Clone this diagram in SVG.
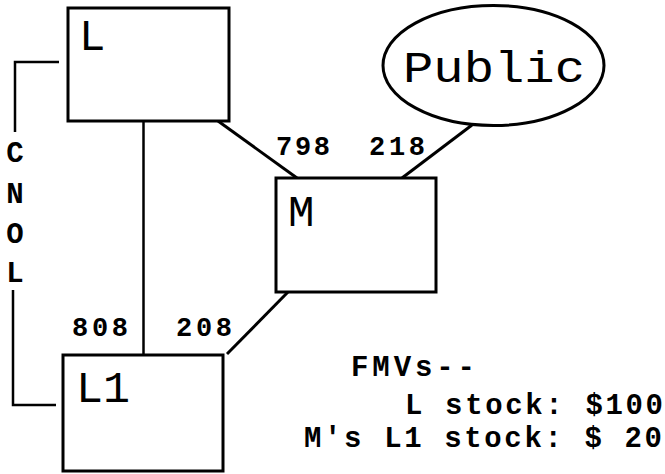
<svg xmlns="http://www.w3.org/2000/svg" width="665" height="474" viewBox="0 0 665 474">
<style>
.box{fill:#fff;stroke:#000;stroke-width:3}
.ln{fill:none;stroke:#000;stroke-width:3}
.thin{fill:none;stroke:#000;stroke-width:2.5}
.lbl{font-family:"Liberation Mono","Courier New",monospace;font-size:44px;fill:#000}
.pct{font-family:"Liberation Mono","Courier New",monospace;font-size:27px;font-weight:bold;fill:#000}
.note{font-family:"Liberation Mono","Courier New",monospace;font-size:29px;font-weight:bold;fill:#000}
</style>
<rect width="665" height="474" fill="#fff"/>
<g id="connectors">
<line class="thin" x1="143.5" y1="121" x2="143.5" y2="355"/>
<line class="ln" x1="218" y1="121" x2="297" y2="178"/>
<line class="ln" x1="472" y1="125" x2="402" y2="178"/>
<line class="ln" x1="288" y1="292" x2="227" y2="354"/>
<polyline class="thin" points="59,62 15,62 15,132"/>
<polyline class="thin" points="13,290 13,405 56,405"/>
</g>
<g id="node-L">
<rect class="box" x="68" y="8" width="161" height="113"/>
<text class="lbl" x="79" y="50">L</text>
</g>
<g id="node-Public">
<ellipse class="box" cx="493.5" cy="65.5" rx="110.5" ry="60"/>
<text class="lbl" x="403" y="82" textLength="182" lengthAdjust="spacingAndGlyphs">Public</text>
</g>
<g id="node-M">
<rect class="box" x="276" y="178" width="160" height="114"/>
<text class="lbl" x="288" y="226">M</text>
</g>
<g id="node-L1">
<rect class="box" x="63" y="355" width="160" height="116"/>
<text class="lbl" x="76" y="402" textLength="54" lengthAdjust="spacingAndGlyphs">L1</text>
</g>
<g id="labels">
<text class="pct" x="276" y="155" textLength="54">798</text>
<text class="pct" x="369" y="155" textLength="56">218</text>
<text class="pct" x="72" y="336" textLength="56">808</text>
<text class="pct" x="176" y="336" textLength="56">208</text>
<text class="note" x="15" y="162" text-anchor="middle">C</text>
<text class="note" x="15" y="202.5" text-anchor="middle">N</text>
<text class="note" x="15" y="243" text-anchor="middle">O</text>
<text class="note" x="15" y="282" text-anchor="middle">L</text>
<text class="note" x="351" y="376" textLength="124">FMVs--</text>
<text class="note" x="405" y="414" textLength="258">L stock: $100</text>
<text class="note" x="304" y="447" textLength="358">M's L1 stock: $ 20</text>
</g>
</svg>
